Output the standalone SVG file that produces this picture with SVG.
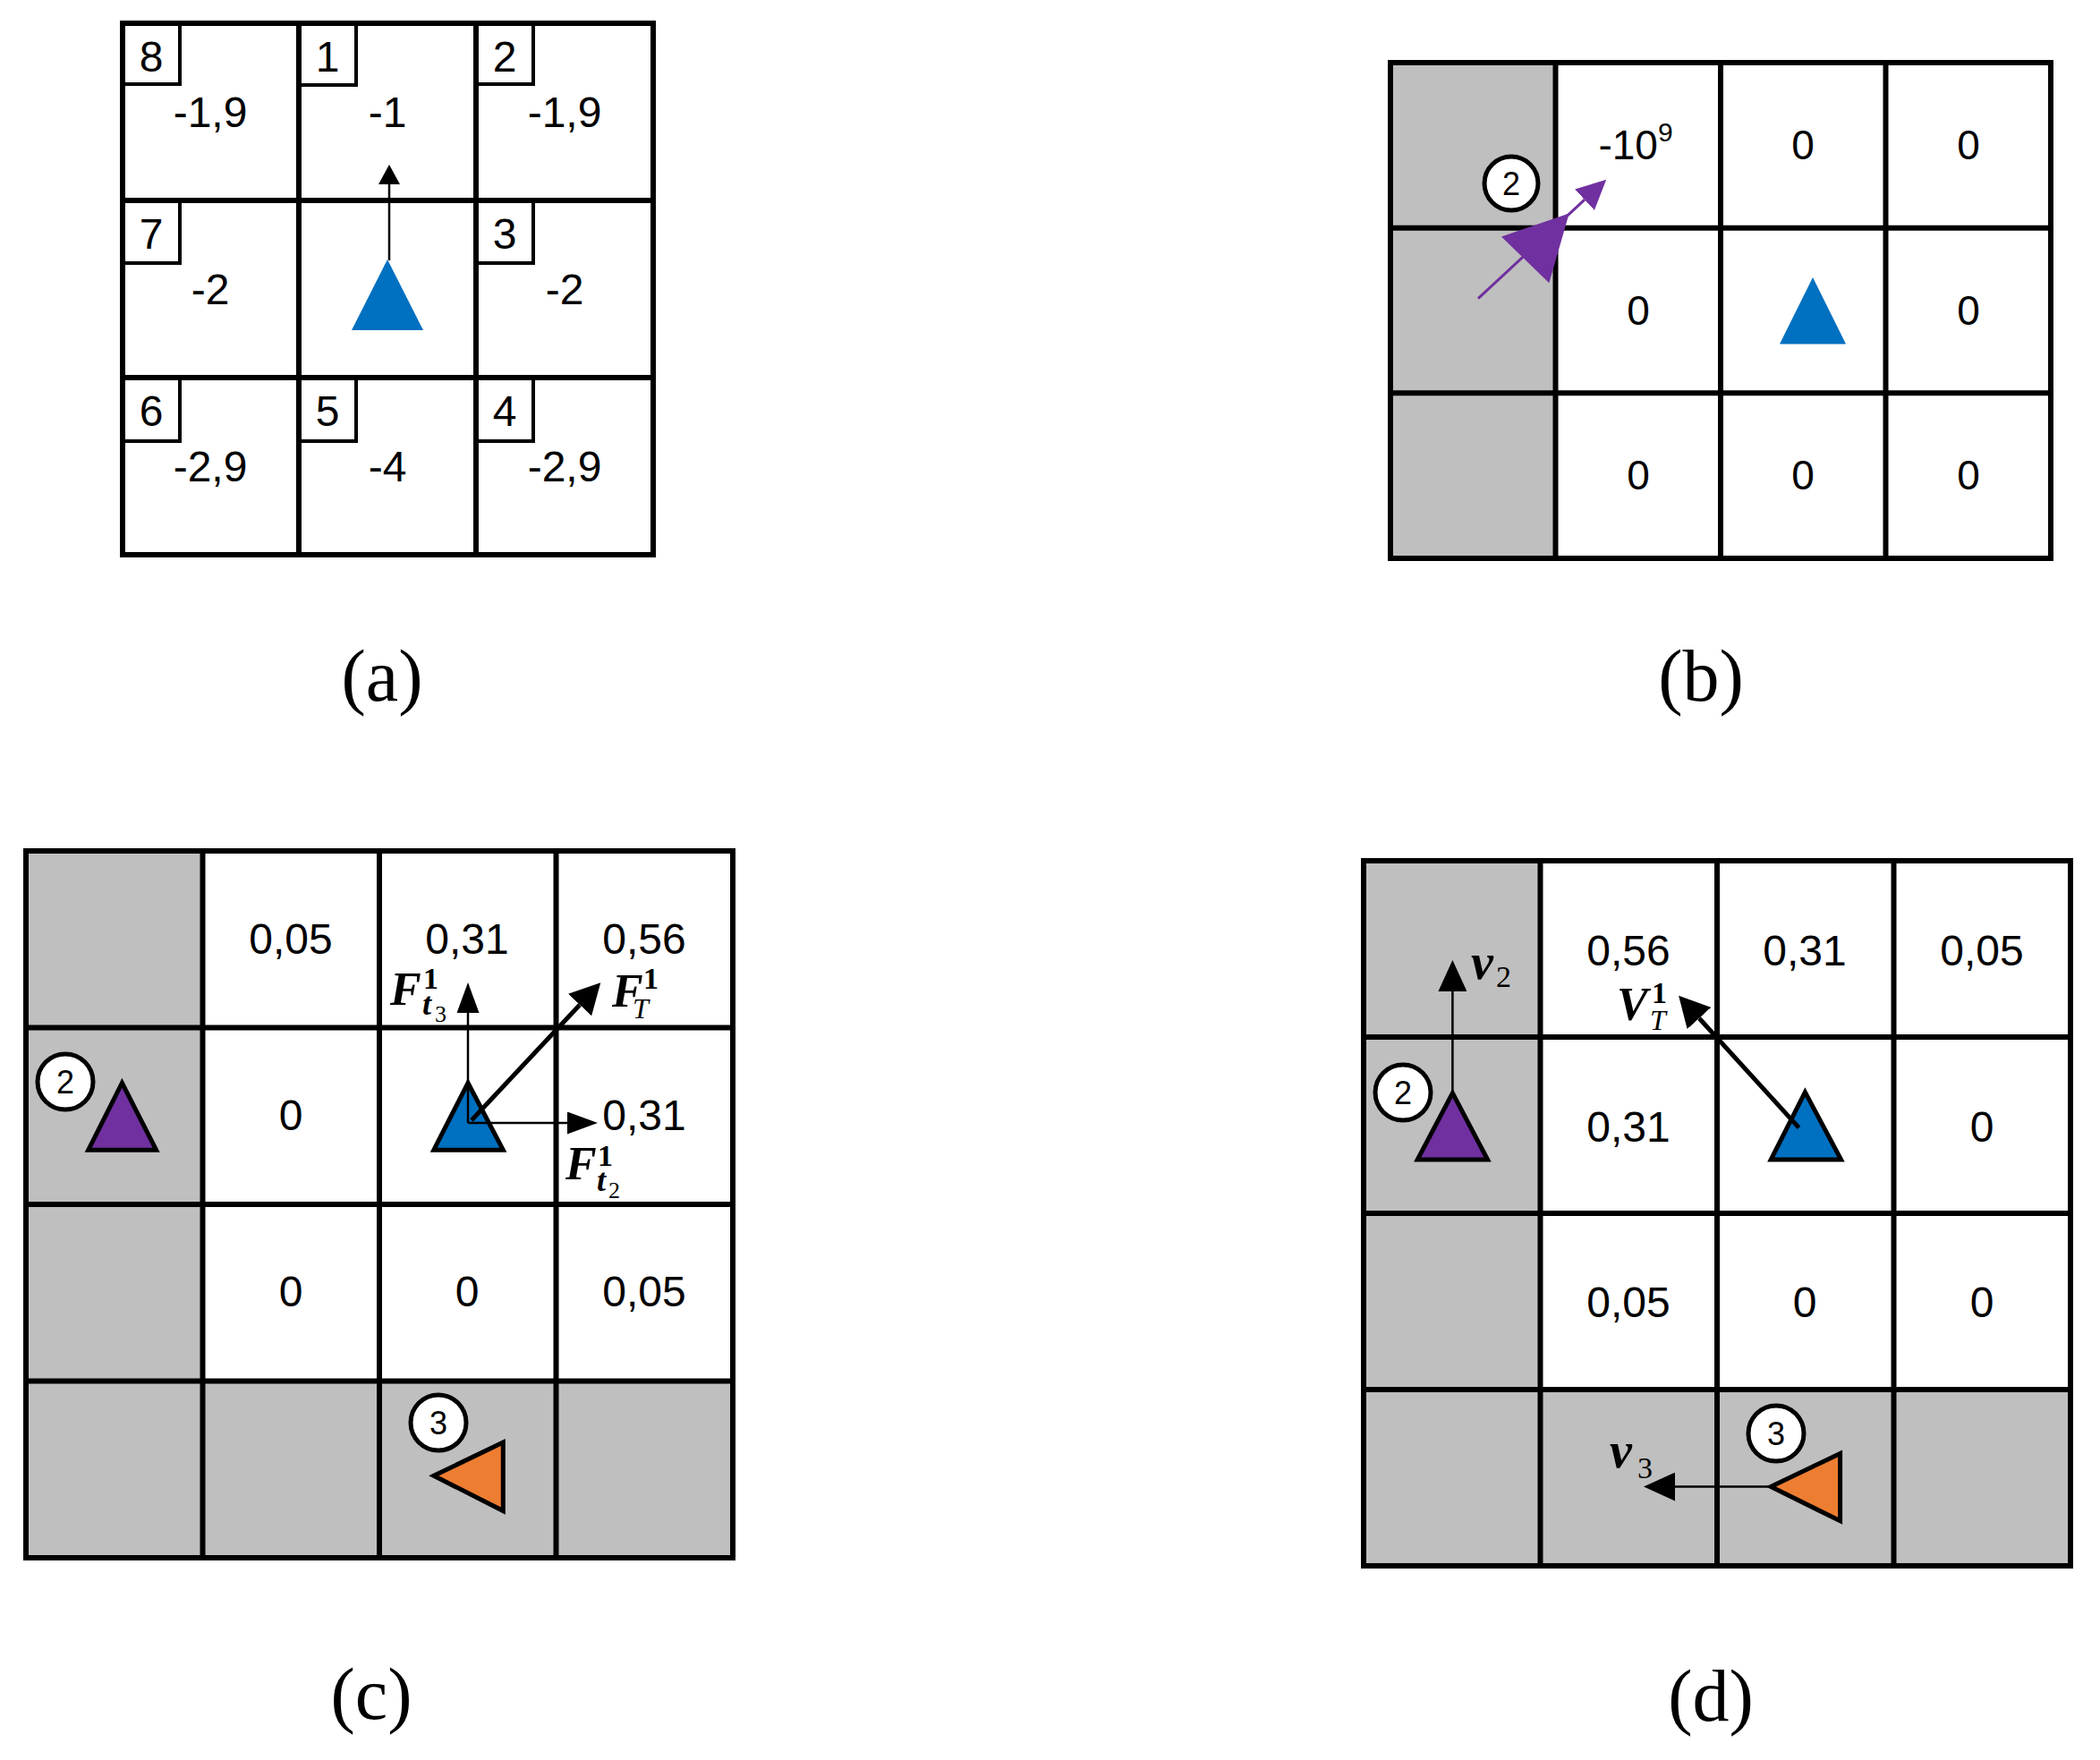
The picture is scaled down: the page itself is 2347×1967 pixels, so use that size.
<svg xmlns="http://www.w3.org/2000/svg" width="2347" height="1967" viewBox="0 0 2347 1967">
<style>
.grid{fill:none;stroke:#000;stroke-width:6}
.box{fill:none;stroke:#000;stroke-width:4}
.grey{fill:#BFBFBF}
.val{font-family:"Liberation Sans",Arial,sans-serif;font-size:48px;text-anchor:middle;fill:#000}
.valb{font-family:"Liberation Sans",Arial,sans-serif;font-size:46px;text-anchor:middle;fill:#000}
.num{font-family:"Liberation Sans",Arial,sans-serif;font-size:48px;text-anchor:middle;fill:#000}
.cap{font-family:"Liberation Serif","Times New Roman",serif;font-size:82px;text-anchor:middle;fill:#000}
.circ{fill:#fff;stroke:#000;stroke-width:5}
.ctext{font-family:"Liberation Sans",Arial,sans-serif;font-size:36px;text-anchor:middle;fill:#000}
.blue{fill:#0070C0}
.blueS{fill:#0070C0;stroke:#000;stroke-width:5;stroke-linejoin:miter}
.purple{fill:#7030A0}
.purpleS{fill:#7030A0;stroke:#000;stroke-width:5}
.orangeS{fill:#ED7D31;stroke:#000;stroke-width:5}
.thin{stroke:#000;stroke-width:2.5;fill:none}
.thick{stroke:#000;stroke-width:5;fill:none}
.math{font-family:"Liberation Serif","DejaVu Serif",serif;fill:#000}
.mF{font-size:52px;font-style:italic;font-weight:bold}
.mv{font-size:56px;font-style:italic;font-weight:bold}
.mS{font-size:34px;font-weight:bold}
.mSi{font-size:36px;font-style:italic;font-weight:bold}
.mSs{font-size:26px}
.mSd{font-size:34px}
.mT{font-size:32px;font-style:italic}
</style>
<defs>
<marker id="ha" markerUnits="userSpaceOnUse" markerWidth="22" markerHeight="24" refX="0" refY="12" orient="auto"><path d="M0,0 L22,12 L0,24 z" fill="#000"/></marker>
<marker id="hc" markerUnits="userSpaceOnUse" markerWidth="34" markerHeight="25" refX="0" refY="12.5" orient="auto"><path d="M0,0 L34,12.5 L0,25 z" fill="#000"/></marker>
<marker id="hk" markerUnits="userSpaceOnUse" markerWidth="34" markerHeight="36" refX="0" refY="18" orient="auto"><path d="M0,0 L34,18 L0,36 z" fill="#000"/></marker>
<marker id="hd" markerUnits="userSpaceOnUse" markerWidth="35" markerHeight="32" refX="0" refY="16" orient="auto"><path d="M0,0 L35,16 L0,32 z" fill="#000"/></marker>
<marker id="hp" markerUnits="userSpaceOnUse" markerWidth="33" markerHeight="32" refX="0" refY="16" orient="auto"><path d="M0,0 L33,16 L0,32 z" fill="#7030A0"/></marker>
</defs>
<rect width="2347" height="1967" fill="#fff"/>

<!-- Panel (a) -->
<g id="panel-a">
<rect class="grid" x="137" y="26" width="593" height="594"/>
<path class="grid" d="M334,26 V620 M532,26 V620 M137,224 H730 M137,422 H730"/>
<path class="box" d="M137,94 H201 V26 M334,95 H398 V26 M532,94 H596 V26 M137,294 H201 V224 M532,294 H596 V224 M137,493 H201 V422 M334,493 H398 V422 M532,493 H596 V422"/>
<g id="a-labels">
<text class="num" x="169" y="80">8</text>
<text class="num" x="366" y="80">1</text>
<text class="num" x="564" y="80">2</text>
<text class="num" x="169" y="278">7</text>
<text class="num" x="564" y="278">3</text>
<text class="num" x="169" y="476">6</text>
<text class="num" x="366" y="476">5</text>
<text class="num" x="564" y="476">4</text>
</g>
<g id="a-values">
<text class="val" x="235" y="142">-1,9</text>
<text class="val" x="433" y="142">-1</text>
<text class="val" x="631" y="142">-1,9</text>
<text class="val" x="235" y="340">-2</text>
<text class="val" x="631" y="340">-2</text>
<text class="val" x="235" y="538">-2,9</text>
<text class="val" x="433" y="538">-4</text>
<text class="val" x="631" y="538">-2,9</text>
</g>
<g id="a-agent"><polygon class="blue" points="433,290 393,369 473,369"/></g>
<g id="a-connectors"><line class="thin" x1="435" y1="291" x2="435" y2="206" marker-end="url(#ha)"/></g>
<text class="cap" x="427" y="783">(a)</text>
</g>

<!-- Panel (b) -->
<g id="panel-b">
<rect class="grey" x="1554" y="70" width="184.5" height="554"/>
<rect class="grid" x="1554" y="70" width="738" height="554"/>
<path class="grid" d="M1738.5,70 V624 M1923,70 V624 M2107.5,70 V624 M1554,254.7 H2292 M1554,439.3 H2292"/>
<g id="b-values">
<text class="valb" x="1828" y="178">-10<tspan font-size="30" dy="-20">9</tspan></text>
<text class="valb" x="2015" y="178">0</text>
<text class="valb" x="2200" y="178">0</text>
<text class="valb" x="1831" y="363">0</text>
<text class="valb" x="2200" y="363">0</text>
<text class="valb" x="1831" y="547">0</text>
<text class="valb" x="2015" y="547">0</text>
<text class="valb" x="2200" y="547">0</text>
</g>
<g id="b-agent-blue"><polygon class="blue" points="2026,310 1989,384.5 2063,384.5"/></g>
<g id="b-connectors"><line stroke="#7030A0" stroke-width="3" x1="1652" y1="333.6" x2="1771" y2="223.2" marker-end="url(#hp)"/></g>
<g id="b-agent-purple"><polygon class="purple" points="1678,264.4 1731.3,316.3 1753.7,238.6"/></g>
<g id="b-id2"><circle class="circ" cx="1689" cy="205" r="30"/><text class="ctext" x="1689" y="218">2</text></g>
<text class="cap" x="1901" y="783">(b)</text>
</g>

<!-- Panel (c) -->
<g id="panel-c">
<rect class="grey" x="29" y="951" width="197.5" height="790"/>
<rect class="grey" x="29" y="1543.5" width="790" height="197.5"/>
<rect class="grid" x="29" y="951" width="790" height="790"/>
<path class="grid" d="M226.5,951 V1741 M424,951 V1741 M621.5,951 V1741 M29,1148.5 H819 M29,1346 H819 M29,1543.5 H819"/>
<g id="c-values">
<text class="val" x="325" y="1066">0,05</text>
<text class="val" x="522" y="1066">0,31</text>
<text class="val" x="720" y="1066">0,56</text>
<text class="val" x="325" y="1263">0</text>
<text class="val" x="720" y="1263">0,31</text>
<text class="val" x="325" y="1460">0</text>
<text class="val" x="522" y="1460">0</text>
<text class="val" x="720" y="1460">0,05</text>
</g>
<g id="c-agent2"><polygon class="purpleS" points="136.4,1210.3 98.7,1285.2 174.6,1285.2"/></g>
<g id="c-id2"><circle class="circ" cx="73" cy="1209" r="31"/><text class="ctext" x="73" y="1222">2</text></g>
<g id="c-agent1"><polygon class="blueS" points="523,1210.3 484.8,1285.2 562.3,1285.2"/></g>
<g id="c-agent3"><polygon class="orangeS" points="484.8,1649.3 562.3,1612 562.3,1688.6"/></g>
<g id="c-id3"><circle class="circ" cx="490" cy="1590" r="31"/><text class="ctext" x="490" y="1603">3</text></g>
<g id="c-connectors">
<line class="thin" x1="523" y1="1255" x2="523" y2="1132" marker-end="url(#hc)"/>
<line class="thin" x1="523" y1="1255" x2="634" y2="1255" marker-end="url(#hc)"/>
<line class="thick" x1="527" y1="1252" x2="648" y2="1123" marker-end="url(#hk)"/>
</g>
<g id="c-math">
<text class="math mF" x="436" y="1123">F</text>
<text class="math mS" x="473" y="1105">1</text>
<text class="math mSi" x="472" y="1134">t</text>
<text class="math mSs" x="486" y="1142">3</text>
<text class="math mF" x="684" y="1125">F</text>
<text class="math mS" x="719" y="1105">1</text>
<text class="math mT" x="707" y="1138">T</text>
<text class="math mF" x="632" y="1318">F</text>
<text class="math mS" x="668" y="1303">1</text>
<text class="math mSi" x="667" y="1331">t</text>
<text class="math mSs" x="680" y="1339">2</text>
</g>
<text class="cap" x="415" y="1921">(c)</text>
</g>

<!-- Panel (d) -->
<g id="panel-d">
<rect class="grey" x="1524" y="962" width="197.5" height="788"/>
<rect class="grey" x="1524" y="1553" width="790" height="197"/>
<rect class="grid" x="1524" y="962" width="790" height="788"/>
<path class="grid" d="M1721.5,962 V1750 M1919,962 V1750 M2116.5,962 V1750 M1524,1159 H2314 M1524,1356 H2314 M1524,1553 H2314"/>
<g id="d-values">
<text class="val" x="1820" y="1079">0,56</text>
<text class="val" x="2017" y="1079">0,31</text>
<text class="val" x="2215" y="1079">0,05</text>
<text class="val" x="1820" y="1276">0,31</text>
<text class="val" x="2215" y="1276">0</text>
<text class="val" x="1820" y="1472">0,05</text>
<text class="val" x="2017" y="1472">0</text>
<text class="val" x="2215" y="1472">0</text>
</g>
<g id="d-agent2"><polygon class="purpleS" points="1623.4,1221.7 1584.2,1296 1662.6,1296"/></g>
<g id="d-id2"><circle class="circ" cx="1568" cy="1221" r="31"/><text class="ctext" x="1568" y="1234">2</text></g>
<g id="d-agent1"><polygon class="blueS" points="2017.4,1220.6 1979.2,1296 2057.6,1296"/></g>
<g id="d-agent3"><polygon class="orangeS" points="1979.2,1661.6 2056.6,1624.5 2056.6,1699.8"/></g>
<g id="d-id3"><circle class="circ" cx="1985" cy="1602" r="31"/><text class="ctext" x="1985" y="1615">3</text></g>
<g id="d-connectors">
<line class="thin" x1="1623.4" y1="1222" x2="1623.4" y2="1108" marker-end="url(#hd)"/>
<line class="thin" x1="1979" y1="1661.6" x2="1872" y2="1661.6" marker-end="url(#hd)"/>
<line class="thick" x1="2010.5" y1="1260.4" x2="1899" y2="1138" marker-end="url(#hk)"/>
</g>
<g id="d-math">
<text class="math mv" x="1644" y="1094">v</text>
<text class="math mSd" x="1672" y="1103">2</text>
<text class="math mF" x="1807" y="1140">V</text>
<text class="math mS" x="1846" y="1121">1</text>
<text class="math mT" x="1844" y="1151">T</text>
<text class="math mv" x="1799" y="1640">v</text>
<text class="math mSd" x="1830" y="1652">3</text>
</g>
<text class="cap" x="1912" y="1923">(d)</text>
</g>
</svg>
